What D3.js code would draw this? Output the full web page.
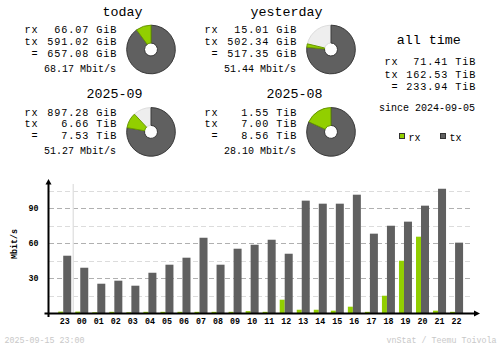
<!DOCTYPE html>
<html>
<head>
<meta charset="utf-8">
<script src="https://cdn.jsdelivr.net/npm/d3@7"></script>
<style>
  html, body { margin: 0; padding: 0; background: #fff; }
  svg { display: block; }
  text { font-family: "Liberation Mono", "DejaVu Sans Mono", monospace; fill: #000; }
</style>
</head>
<body>
<svg id="chart" width="500" height="348"></svg>
<script>
// Hourly traffic, last 24 hours (Mbit/s averages)
const hours = ["23","00","01","02","03","04","05","06","07","08","09","10",
               "11","12","13","14","15","16","17","18","19","20","21","22"];
const rxRate = [1.2, 1.2, 0.6, 1.0, 0.6, 1.0, 1.0, 1.0, 1.0, 1.0, 1.0, 1.6,
                1.0, 11.4, 2.8, 2.8, 2.0, 5.4, 1.0, 14.8, 44.8, 65.4, 2.0, 1.0];
const txRate = [49.1, 38.8, 25.1, 27.7, 23.4, 34.5, 41.4, 47.4, 64.5, 41.4, 55.1, 58.5,
                62.8, 50.8, 96.3, 93.7, 93.7, 101.4, 68.0, 74.8, 78.3, 92.0, 106.5, 60.3];
const yTickValues = [30, 60, 90];
const yMinorValues = [15, 45, 75, 105];

// Period summaries
const periods = ["today", "yesterday", "2025-09", "2025-08"];
const periodRx = [66.07, 15.01, 897.28, 1.55];
const periodRxUnit = ["GiB", "GiB", "GiB", "TiB"];
const periodTx = [591.02, 502.34, 6.66, 7.00];
const periodTxUnit = ["GiB", "GiB", "TiB", "TiB"];
const periodTotal = [657.08, 517.35, 7.53, 8.56];
const periodTotalUnit = ["GiB", "GiB", "TiB", "TiB"];
const periodRate = [68.17, 51.44, 51.27, 28.10];

// All time
const allTimeLabels = ["rx", "tx", " ="];
const allTimeValues = [71.41, 162.53, 233.94];
const allTimeUnits = ["TiB", "TiB", "TiB"];
const sinceDate = "2024-09-05";

const stamp = "2025-09-15 23:00";
const credit = "vnStat / Teemu Toivola";

const C = {
  rx: "#92cf00", rxEdge: "#6a9a00",
  tx: "#606060", txEdge: "#3a3a3a",
  rest: "#eeeeee", restEdge: "#dddddd",
  line: "#b0b0b0", lineLight: "#dcdcdc",
  sep: "#e0e0e0", faint: "#c8c8c8"
};
const unitMul = { GiB: 1, TiB: 1024 };

const svg = d3.select("#chart");

// fonts by character pitch (8, 7, 6 and 5 px per character)
const F = {
  large:  { size: 13.33, ls: 0 },
  medium: { size: 10.2,  ls: 0.88 },
  small:  { size: 10,    ls: 0 },
  tiny:   { size: 8.33,  ls: 0 }
};
function txt(g, x, y, s, font, anchor, extra) {
  const f = F[font];
  // trailing letter-spacing shifts end-anchored text left; compensate
  const dx = (anchor === "end") ? f.ls : 0;
  const t = g.append("text").attr("x", x + dx).attr("y", y).text(s)
    .attr("font-size", f.size + "px")
    .attr("letter-spacing", f.ls + "px")
    .attr("text-anchor", anchor || "start")
    .attr("xml:space", "preserve");
  if (extra) extra(t);
  return t;
}
const fmt = (v, u) => v.toFixed(2) + " " + u;

// ---- summary blocks ----
const arc = d3.arc().innerRadius(6.5).outerRadius(24.3);
periods.forEach((name, i) => {
  const col = i % 2, row = Math.floor(i / 2);
  const g = svg.append("g").attr("transform", `translate(${col * 180},${row * 82.4})`);
  txt(g, 142.5, 16, name, "large", "end");
  const rows = [["rx", fmt(periodRx[i], periodRxUnit[i])],
                ["tx", fmt(periodTx[i], periodTxUnit[i])],
                [" =", fmt(periodTotal[i], periodTotalUnit[i])]];
  rows.forEach((r, k) => {
    const y = 33.4 + k * 11.7;
    txt(g, 24.5, y, r[0], "medium", "start");
    txt(g, 116.3, y, r[1], "medium", "end");
  });
  txt(g, 116, 71.6, periodRate[i].toFixed(2) + " Mbit/s", "small", "end");

  // pie scaled against the larger total of its pair
  const pair = i < 2 ? [0, 1] : [2, 3];
  const scaleMax = d3.max(pair, j => periodTotal[j] * unitMul[periodTotalUnit[j]]);
  const a = d3.scaleLinear().domain([0, scaleMax]).range([0, 2 * Math.PI]);
  const txG = periodTx[i] * unitMul[periodTxUnit[i]];
  const rxG = periodRx[i] * unitMul[periodRxUnit[i]];
  const aTx = Math.min(a(txG), 2 * Math.PI);
  const aRx = Math.min(a(txG + rxG), 2 * Math.PI);
  const pie = g.append("g").attr("transform", "translate(151,49.5)");
  pie.append("path").attr("d", arc({ startAngle: 0, endAngle: 2 * Math.PI }))
    .attr("fill", C.rest).attr("stroke", C.restEdge).attr("stroke-width", 1);
  pie.append("path").attr("d", arc({ startAngle: 0, endAngle: aTx }))
    .attr("fill", C.tx).attr("stroke", C.txEdge).attr("stroke-width", 1);
  if (aRx - aTx > 0.001)
    pie.append("path").attr("d", arc({ startAngle: aTx, endAngle: aRx }))
      .attr("fill", C.rx).attr("stroke", C.rxEdge).attr("stroke-width", 1);
});

// ---- all time block ----
const at = svg.append("g");
txt(at, 428.7, 44, "all time", "large", "middle");
allTimeLabels.forEach((l, k) => {
  const y = 65.3 + k * 12.4;
  txt(at, 384.5, y, l, "medium", "start");
  txt(at, 475.3, y, fmt(allTimeValues[k], allTimeUnits[k]), "medium", "end");
});
txt(at, 475, 111, "since " + sinceDate, "small", "end");

// legend
[["rx", C.rx, 399.5], ["tx", C.tx, 440.5]].forEach(d => {
  at.append("rect").attr("x", d[2]).attr("y", 133.5).attr("width", 5).attr("height", 5)
    .attr("fill", d[1]).attr("stroke", "#333").attr("stroke-width", 1);
  txt(at, d[2] + 9, 140.5, d[0], "small", "start");
});

// ---- hourly bar chart ----
const x = d3.scaleBand().domain(hours).range([56.2, 465.1]).paddingInner(0).paddingOuter(0);
const y = d3.scaleLinear().domain([0, 90]).range([313, 208]);
const plot = svg.append("g");

// grid lines
yMinorValues.forEach(v => {
  plot.append("line").attr("x1", 49).attr("x2", 473)
    .attr("y1", Math.round(y(v)) + 0.5).attr("y2", Math.round(y(v)) + 0.5)
    .attr("stroke", C.lineLight).attr("stroke-dasharray", "5,3");
});
yTickValues.forEach(v => {
  plot.append("line").attr("x1", 49).attr("x2", 473)
    .attr("y1", Math.round(y(v)) + 0.5).attr("y2", Math.round(y(v)) + 0.5)
    .attr("stroke", C.line).attr("stroke-dasharray", "5,3");
});

// day boundary
plot.append("line").attr("x1", x("00")).attr("x2", x("00"))
  .attr("y1", 184).attr("y2", 312).attr("stroke", C.sep).attr("stroke-width", 1.3);

// bars
const bw = x.bandwidth();
plot.selectAll("rect.rx").data(hours).enter().append("rect")
  .attr("class", "rx")
  .attr("x", h => x(h) + bw / 2 - 6.5).attr("width", 5)
  .attr("y", (h, i) => y(rxRate[i])).attr("height", (h, i) => y(0) - y(rxRate[i]))
  .attr("fill", C.rx);
plot.selectAll("rect.tx").data(hours).enter().append("rect")
  .attr("class", "tx")
  .attr("x", h => x(h) + bw / 2 - 1.5).attr("width", 8)
  .attr("y", (h, i) => y(txRate[i])).attr("height", (h, i) => y(0) - y(txRate[i]))
  .attr("fill", C.tx);

// axes
const xAxis = d3.axisBottom(x).tickSize(0).tickPadding(0);
const xg = plot.append("g").attr("transform", "translate(0,318)").call(xAxis);
xg.select(".domain").remove();
xg.selectAll("text").attr("dy", "0").attr("y", 6.3)
  .attr("font-family", "Liberation Mono").attr("font-size", "8.33px")
  .attr("font-weight", "bold").attr("fill", "#000");

const yAxis = d3.axisLeft(y).tickValues(yTickValues).tickSize(0).tickPadding(0);
const yg = plot.append("g").attr("transform", "translate(38.5,0)").call(yAxis);
yg.select(".domain").remove();
yg.selectAll("text").attr("dy", "0.33em").attr("x", 0)
  .attr("font-family", "Liberation Mono").attr("font-size", "8.33px")
  .attr("font-weight", "bold").attr("fill", "#000");

plot.append("line").attr("x1", 48.5).attr("x2", 48.5).attr("y1", 183).attr("y2", 317)
  .attr("stroke", "#000").attr("stroke-width", 2);
plot.append("line").attr("x1", 44.5).attr("x2", 475).attr("y1", 313.5).attr("y2", 313.5)
  .attr("stroke", "#000").attr("stroke-width", 2);
plot.append("path").attr("d", "M48.5,179 L45.5,184.5 L51.5,184.5 Z").attr("fill", "#000");
plot.append("path").attr("d", "M480,313.5 L474,310.5 L474,316.5 Z").attr("fill", "#000");

// y unit label
txt(plot, 0, 0, "Mbit/s", "tiny", "middle",
  t => t.attr("transform", "translate(17.3,244) rotate(-90)").attr("font-weight", "bold"));

// footer
txt(svg, 4.5, 343, stamp, "tiny", "start", t => t.style("fill", C.faint));
txt(svg, 496.5, 343, credit, "tiny", "end", t => t.style("fill", C.faint));
</script>
</body>
</html>
